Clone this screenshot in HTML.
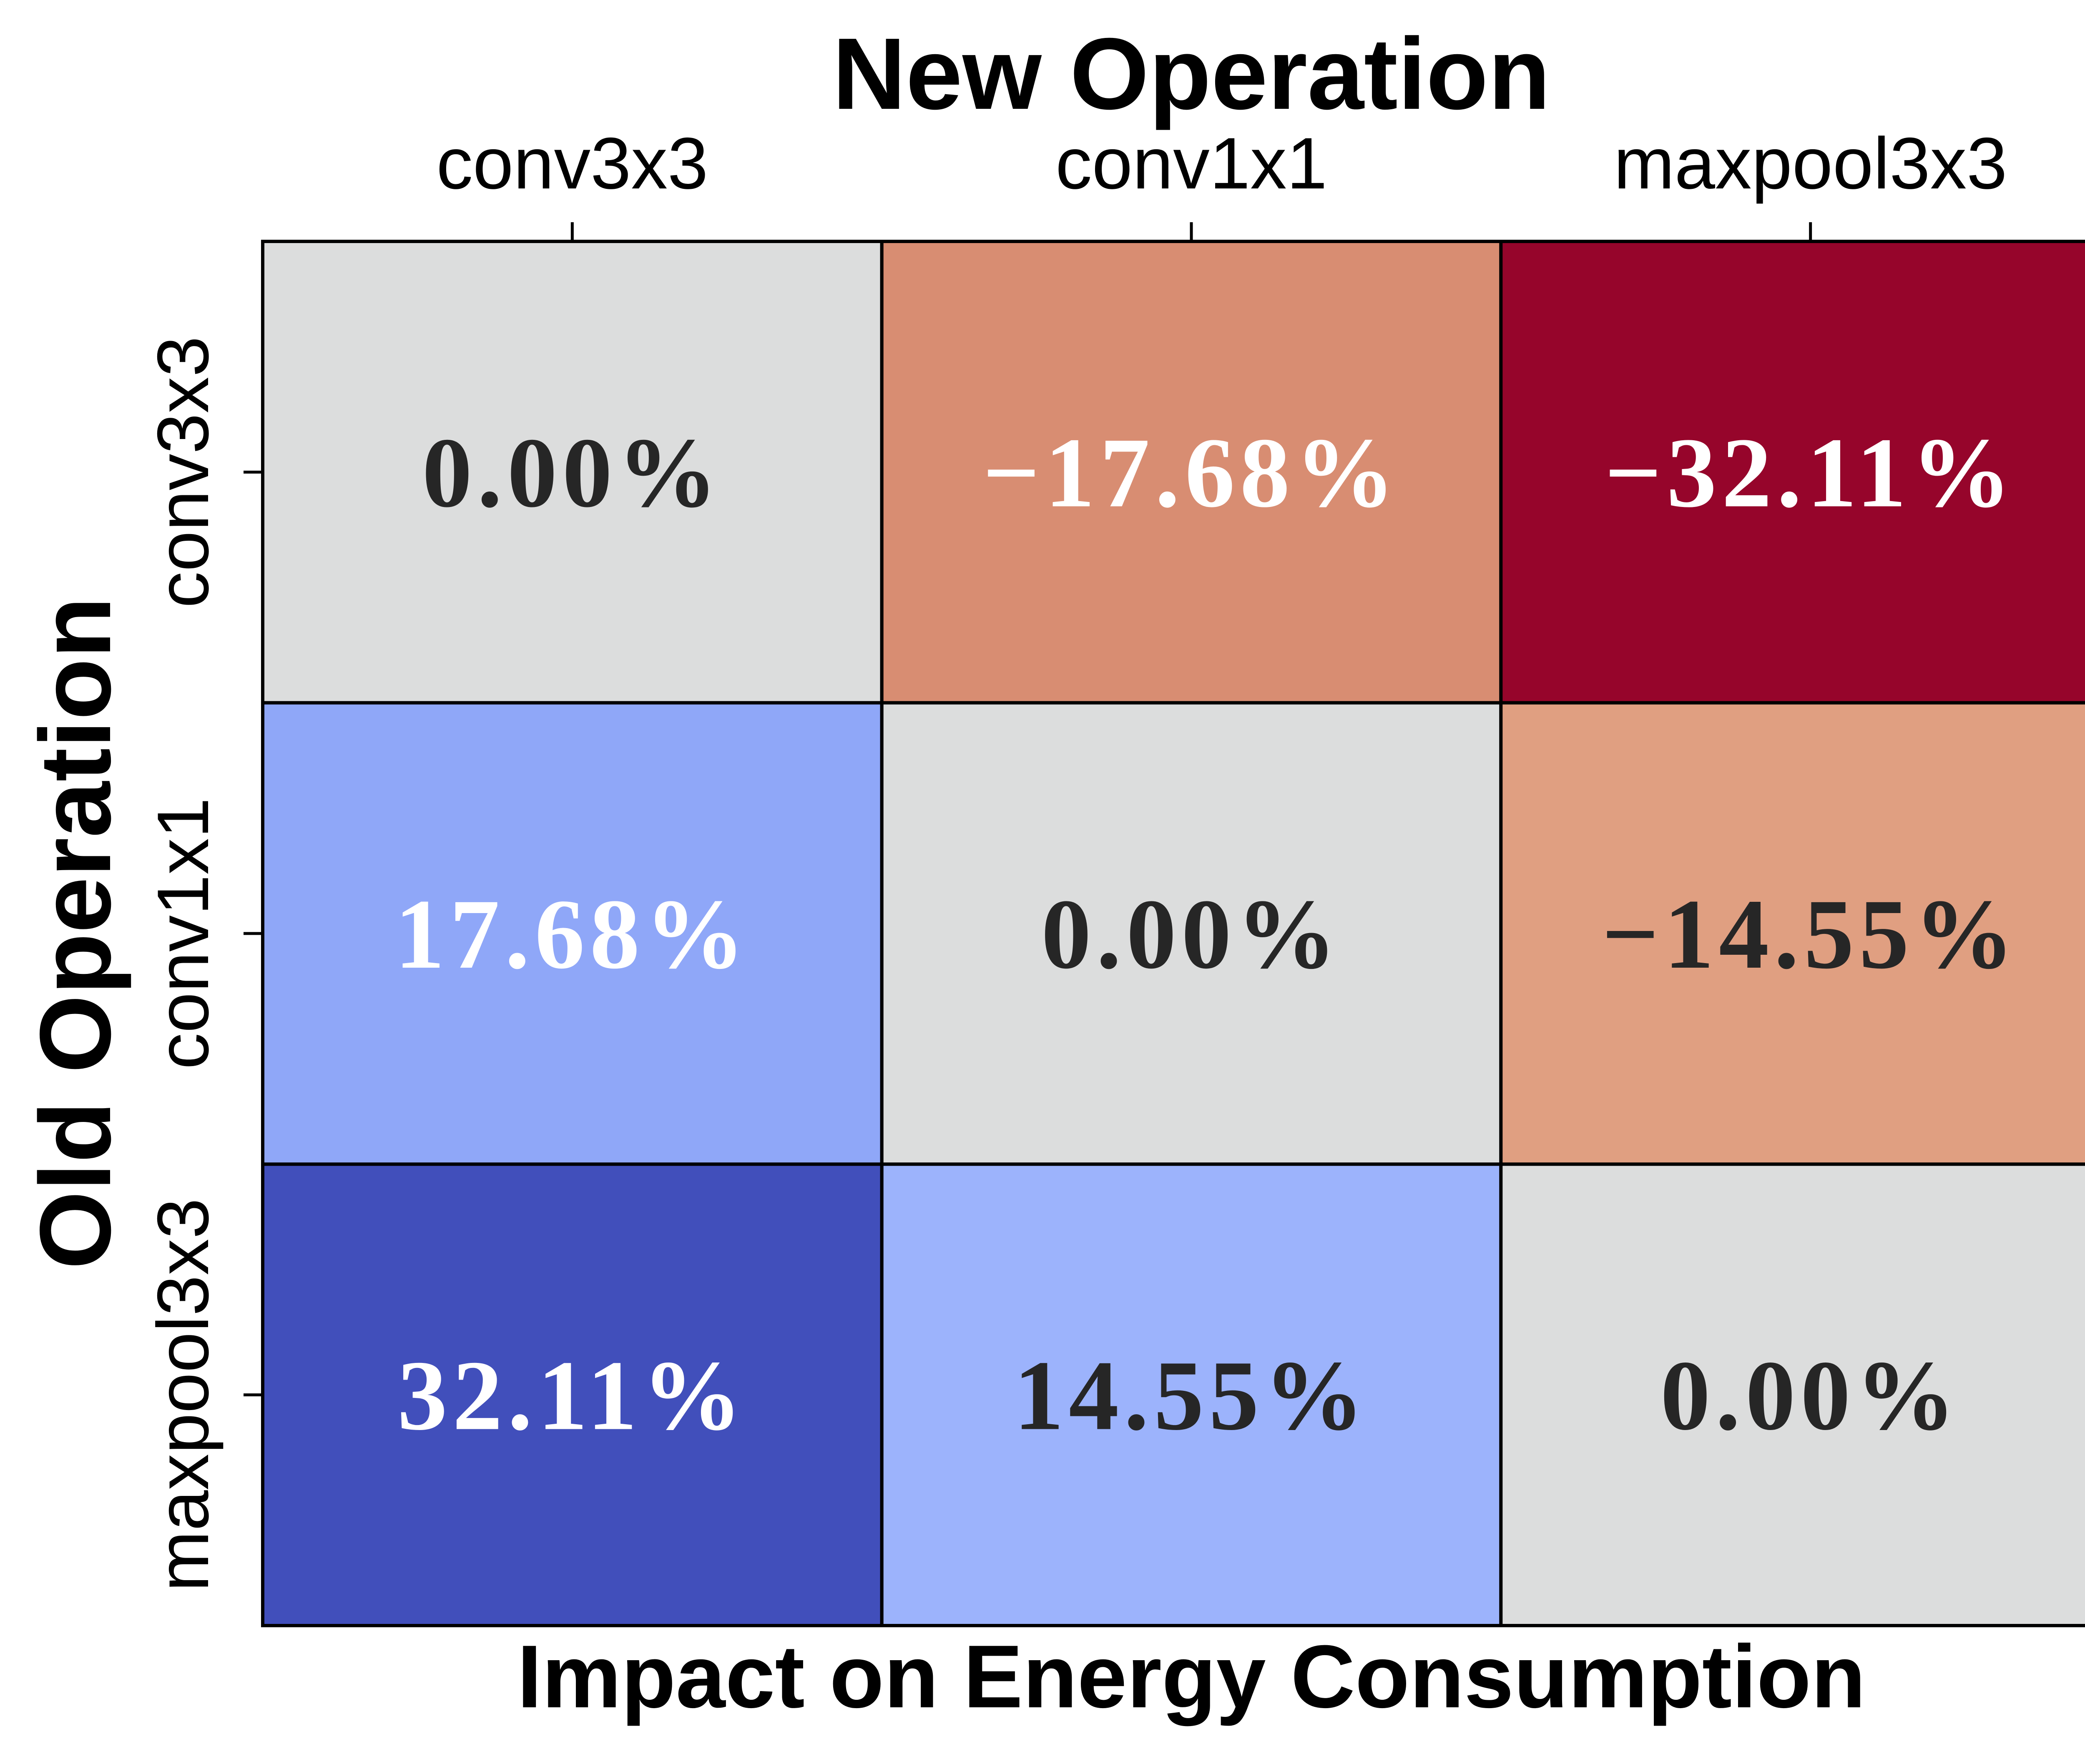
<!DOCTYPE html>
<html><head><meta charset="utf-8"><style>
html,body{margin:0;padding:0;background:#fff;width:5180px;height:4231px;overflow:hidden;}
svg{display:block;}
</style></head><body>
<svg id="chart" width="5180" height="4231" viewBox="0 0 5180 4231" xmlns="http://www.w3.org/2000/svg">
<rect width="5180" height="4231" fill="#fff"/>
<g id="cells"></g>
<g id="axes"></g>
<text x="2857" y="261" text-anchor="middle" font-family="Liberation Sans, sans-serif" font-weight="bold" font-size="244">New Operation</text>
<text x="2857" y="4095" text-anchor="middle" font-family="Liberation Sans, sans-serif" font-weight="bold" font-size="214">Impact on Energy Consumption</text>
<text transform="translate(264,2238) rotate(-90)" text-anchor="middle" font-family="Liberation Sans, sans-serif" font-weight="bold" font-size="242">Old Operation</text>
</svg>
<script>
const rowLabels = ["conv3x3", "conv1x1", "maxpool3x3"];
const colLabels = ["conv3x3", "conv1x1", "maxpool3x3"];
const values = [
  [0.00, -17.68, -32.11],
  [17.68, 0.00, -14.55],
  [32.11, 14.55, 0.00]
];
const vMax = 32.11;

const L = 630, T = 579, W = 4454, H = 3320;
const NS = "http://www.w3.org/2000/svg";
const cw = W / colLabels.length, rh = H / rowLabels.length;
function xPos(i){ return L + i * cw; }
function yPos(j){ return T + j * rh; }

const stops = [
  [-1, [150,5,43]],
  [-0.55, [216,141,114]],
  [-0.45, [224,160,130]],
  [0, [220,221,221]],
  [0.45, [156,179,252]],
  [0.55, [143,167,248]],
  [1, [65,79,187]]
];
function color(v){
  const t = Math.max(-1, Math.min(1, v / vMax));
  for (let k = 0; k < stops.length - 1; k++) {
    const a = stops[k], b = stops[k+1];
    if (t >= a[0] && t <= b[0]) {
      const f = (t - a[0]) / (b[0] - a[0] || 1);
      const c = a[1].map((x, i) => Math.round(x + (b[1][i] - x) * f));
      return "rgb(" + c.join(",") + ")";
    }
  }
  return "rgb(220,221,221)";
}

const cells = document.getElementById("cells");
for (let j = 0; j < rowLabels.length; j++) {
  for (let i = 0; i < colLabels.length; i++) {
    const v = values[j][i];
    const r = document.createElementNS(NS, "rect");
    r.setAttribute("x", xPos(i)); r.setAttribute("y", yPos(j));
    r.setAttribute("width", cw); r.setAttribute("height", rh);
    r.setAttribute("fill", color(v));
    r.setAttribute("stroke", "#000"); r.setAttribute("stroke-width", "8");
    
    
    cells.appendChild(r);
    const t = document.createElementNS(NS, "text");
    t.setAttribute("x", xPos(i) + cw / 2);
    t.setAttribute("y", yPos(j) + rh / 2 + 82);
    t.setAttribute("text-anchor", "middle");
    t.setAttribute("font-family", "Liberation Serif, serif");
    t.setAttribute("font-weight", "bold");
    t.setAttribute("font-size", "240");
    t.setAttribute("letter-spacing", "12");
    t.setAttribute("fill", Math.abs(v) > 16 ? "#ffffff" : "#262626");
    t.textContent = (v < 0 ? "\u2212" : "") + Math.abs(v).toFixed(2) + "%";
    
    
    cells.appendChild(t);
  }
}

const axes = document.getElementById("axes");
for (let i = 0; i < colLabels.length; i++) {
  const cx = xPos(i) + cw / 2;
  const tk = document.createElementNS(NS, "line");
  tk.setAttribute("x1", cx); tk.setAttribute("x2", cx);
  tk.setAttribute("y1", T - 46); tk.setAttribute("y2", T);
  tk.setAttribute("stroke", "#000"); tk.setAttribute("stroke-width", "7");
  
  
  axes.appendChild(tk);
  const lb = document.createElementNS(NS, "text");
  lb.setAttribute("x", cx); lb.setAttribute("y", 452);
  lb.setAttribute("text-anchor", "middle");
  lb.setAttribute("font-family", "Liberation Sans, sans-serif");
  lb.setAttribute("font-size", "175");
  lb.textContent = colLabels[i];
  
  
  axes.appendChild(lb);
}
for (let j = 0; j < rowLabels.length; j++) {
  const cy = yPos(j) + rh / 2;
  const tk = document.createElementNS(NS, "line");
  tk.setAttribute("x1", L - 46); tk.setAttribute("x2", L);
  tk.setAttribute("y1", cy); tk.setAttribute("y2", cy);
  tk.setAttribute("stroke", "#000"); tk.setAttribute("stroke-width", "7");
  
  
  axes.appendChild(tk);
  const lb = document.createElementNS(NS, "text");
  lb.setAttribute("transform", "translate(499," + cy + ") rotate(-90)");
  lb.setAttribute("text-anchor", "middle");
  lb.setAttribute("font-family", "Liberation Sans, sans-serif");
  lb.setAttribute("font-size", "175");
  lb.textContent = rowLabels[j];
  
  
  axes.appendChild(lb);
}
const frame = document.createElementNS(NS, "rect");
frame.setAttribute("x", L); frame.setAttribute("y", T);
frame.setAttribute("width", W); frame.setAttribute("height", H);
frame.setAttribute("fill", "none"); frame.setAttribute("stroke", "#000"); frame.setAttribute("stroke-width", "6");


axes.appendChild(frame);
</script>
</body></html>
